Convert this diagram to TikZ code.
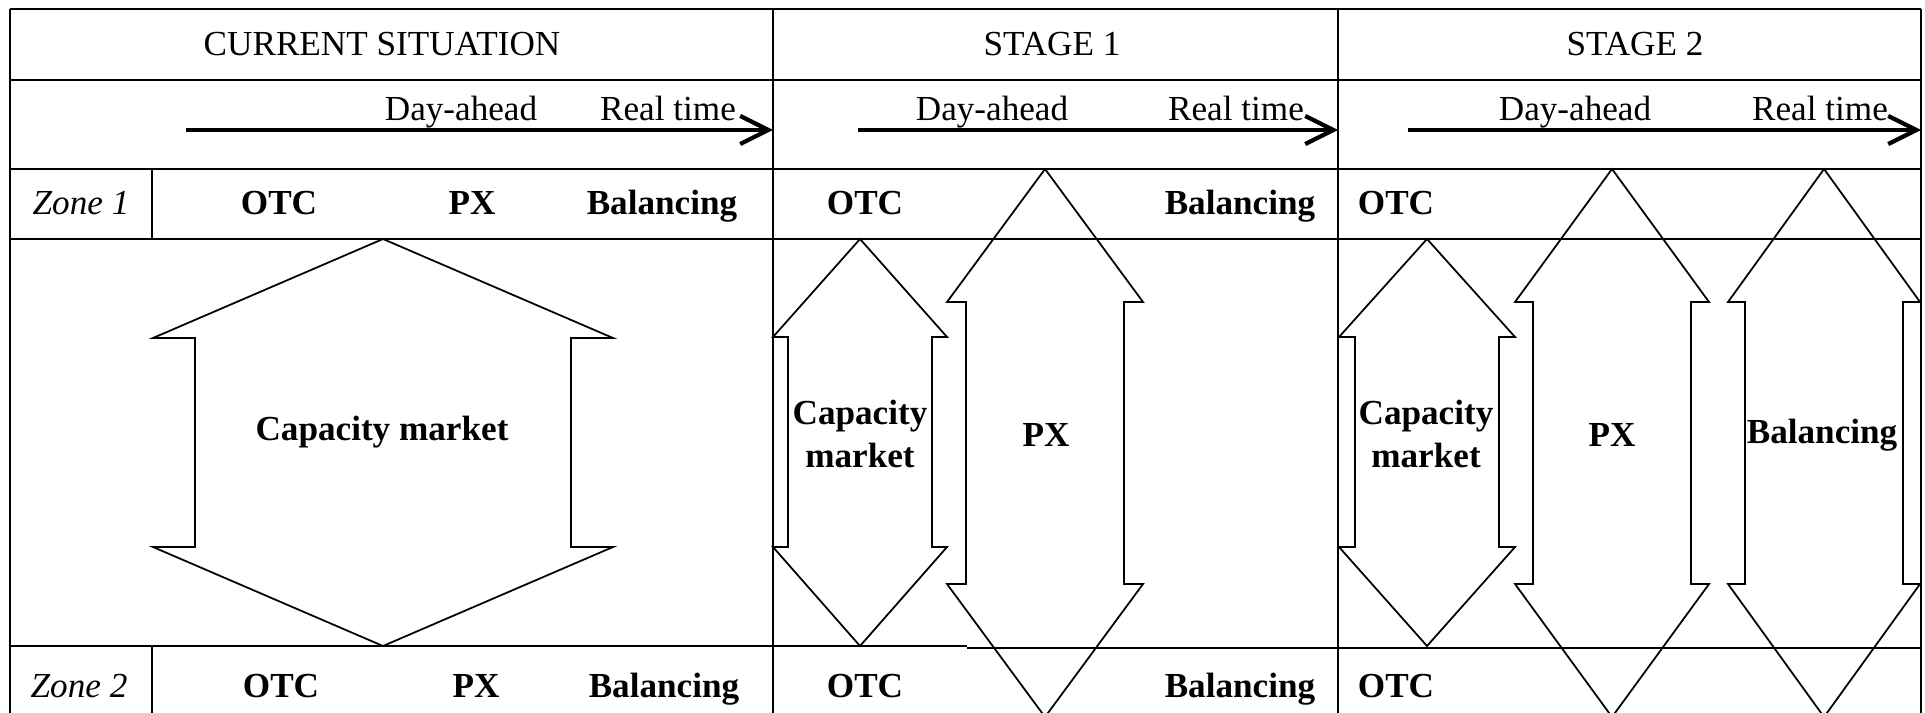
\documentclass[tikz,border=0pt]{standalone}
\usepackage{fontspec}
\setmainfont{Liberation Serif}
\usetikzlibrary{arrows.meta}

\newcommand{\dblarrow}[7]{%
  \draw[blockarrow] (#1,#2) -- ({#1+#6},#3) -- ({#1+#7},#3) -- ({#1+#7},#4) -- ({#1+#6},#4) -- (#1,#5)
    -- ({#1-#6},#4) -- ({#1-#7},#4) -- ({#1-#7},#3) -- ({#1-#6},#3) -- cycle;}

\begin{document}
\begin{tikzpicture}[x=0.01cm, y=-0.01cm,
    every node/.style={font=\fontsize{10}{12}\selectfont, inner sep=0pt},
    cell/.style={anchor=base},
    mkt/.style={anchor=base, font=\fontsize{10}{12}\selectfont\bfseries},
    zone/.style={anchor=base, font=\fontsize{10}{12}\selectfont\itshape},
    inarrow/.style={align=center, font=\fontsize{10}{12}\selectfont\bfseries},
    blockarrow/.style={line width=0.5pt, line join=miter},
    rule/.style={line width=0.6pt},
    timeline/.style={line width=1.2pt, -{Straight Barb[length=8pt, width=8pt, line width=1.2pt]}}]
      \useasboundingbox (0,0) rectangle (1925,713);
      \clip (0,0) rectangle (1925,713);
      \draw[rule] (10,9) -- (1921,9);
      \draw[rule] (10,80) -- (1921,80);
      \draw[rule] (10,169) -- (1921,169);
      \draw[rule] (10,239) -- (1921,239);
      \draw[rule] (10,646) -- (967,646);
      \draw[rule] (967,648) -- (1921,648);
      \draw[rule] (10,9) -- (10,720);
      \draw[rule] (773,9) -- (773,720);
      \draw[rule] (1338,9) -- (1338,720);
      \draw[rule] (1921,9) -- (1921,720);
      \draw[rule] (152,169) -- (152,239);
      \draw[rule] (152,646) -- (152,720);
      \node (hcur) at (382,44) {CURRENT SITUATION};
      \node (hst1) at (1052,44) {STAGE 1};
      \node (hst2) at (1635,44) {STAGE 2};
      \node[cell] (da0) at (461,121) {Day-ahead};
      \node[cell] (rt0) at (668,121) {Real time};
      \node[cell] (da1) at (992,121) {Day-ahead};
      \node[cell] (rt1) at (1236,121) {Real time};
      \node[cell] (da2) at (1575,121) {Day-ahead};
      \node[cell] (rt2) at (1820,121) {Real time};
      \coordinate (t0a) at (186,130);
      \coordinate (t0b) at (773,130);
      \coordinate (t1a) at (858,130);
      \coordinate (t1b) at (1338,130);
      \coordinate (t2a) at (1408,130);
      \coordinate (t2b) at (1921,130);
      \draw[timeline] (t0a) -- (t0b);
      \draw[timeline] (t1a) -- (t1b);
      \draw[timeline] (t2a) -- (t2b);
      \node[zone] (z1) at (81,215) {Zone 1};
      \node[mkt] (otc10) at (279,215) {OTC};
      \node[mkt] (px10) at (472,215) {PX};
      \node[mkt] (bal10) at (662,215) {Balancing};
      \node[mkt] (otc11) at (865,215) {OTC};
      \node[mkt] (bal11) at (1240,215) {Balancing};
      \node[mkt] (otc12) at (1396,215) {OTC};
      \node[zone] (z2) at (79,697) {Zone 2};
      \node[mkt] (otc20) at (281,697) {OTC};
      \node[mkt] (px20) at (476,697) {PX};
      \node[mkt] (bal20) at (664,697) {Balancing};
      \node[mkt] (otc21) at (865,697) {OTC};
      \node[mkt] (bal21) at (1240,697) {Balancing};
      \node[mkt] (otc22) at (1396,697) {OTC};
      \dblarrow{383}{239}{338}{547}{646}{230}{188}
      \dblarrow{860}{239}{337}{547}{646}{87}{72}
      \dblarrow{1045}{169}{302}{584}{717}{98}{79}
      \dblarrow{1427}{239}{337}{547}{646}{88}{72}
      \dblarrow{1612}{169}{302}{584}{717}{97}{79}
      \dblarrow{1824}{169}{302}{584}{717}{96}{79}
      \node[inarrow] (cap0) at (382,432) {Capacity market};
      \node[inarrow] (cap1) at (860,434) {Capacity\\market};
      \node[inarrow] (px1) at (1046,435) {PX};
      \node[inarrow] (cap2) at (1426,434) {Capacity\\market};
      \node[inarrow] (px2) at (1612,435) {PX};
      \node[inarrow] (bal2) at (1822,435) {Balancing};
\end{tikzpicture}
\end{document}
